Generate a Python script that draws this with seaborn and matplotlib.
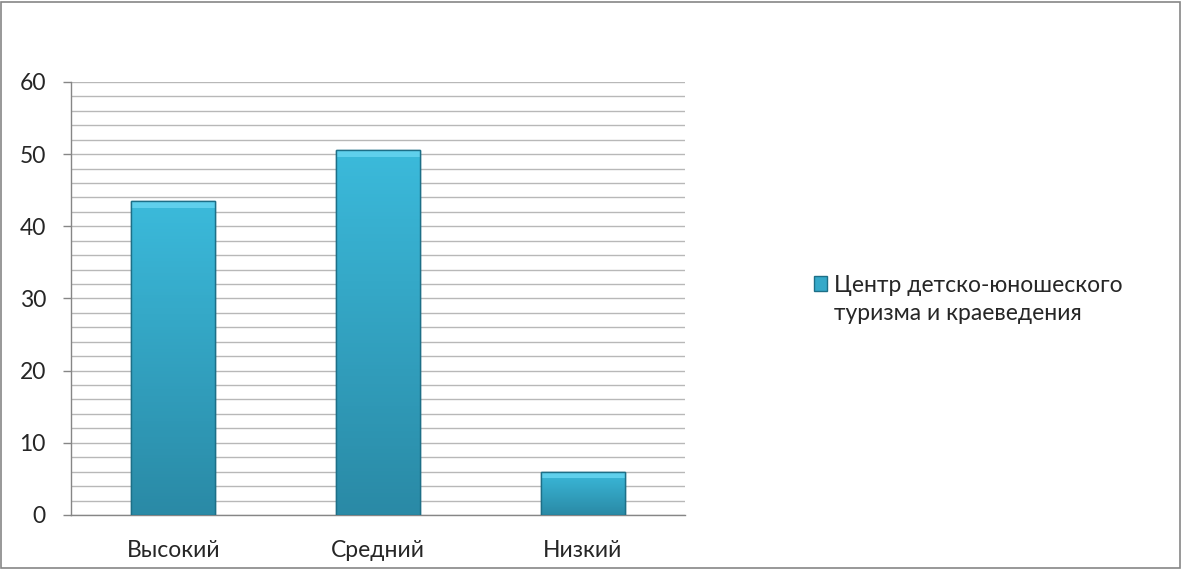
import numpy as np
import pandas as pd
import matplotlib
matplotlib.use('Agg')
import matplotlib.pyplot as plt
import seaborn as sns
from matplotlib.patches import Rectangle
from matplotlib.colors import LinearSegmentedColormap

# данные
categories = ['Высокий', 'Средний', 'Низкий']
values = [43.5, 50.5, 6]
series_lines = ['Центр детско-юношеского', 'туризма и краеведения']

df = pd.DataFrame({'cat': categories, 'val': values})

sns.set_style('white')
plt.rcParams['font.family'] = ['Lato', 'DejaVu Sans']

fig = plt.figure(figsize=(11.82, 5.69), dpi=100)
ax = fig.add_axes([0.060, 0.095, 0.5195, 0.761])

sns.barplot(data=df, x='cat', y='val', color='#35a9c9', width=0.41,
            edgecolor='#1d6f87', linewidth=1.0, saturation=1, ax=ax, zorder=3)

ax.set_ylim(0, 60)
ax.set_xlim(-0.5, 2.5)

# градиент на столбиках
grad = LinearSegmentedColormap.from_list('g', ['#2a8aa6', '#3bbadb'])
for bar in ax.patches:
    x0, y0 = bar.get_x(), bar.get_y()
    w, h = bar.get_width(), bar.get_height()
    im = ax.imshow(np.linspace(0, 1, 100).reshape(-1, 1), cmap=grad, aspect='auto',
                   origin='lower', extent=[x0, x0 + w, y0, y0 + h], zorder=3.5)
    im.set_clip_path(bar)
    # светлая фаска сверху
    ax.add_patch(Rectangle((x0, y0 + h - 0.9), w, 0.9, facecolor='#5fd0ec',
                           edgecolor='none', zorder=3.6))
    ax.add_patch(Rectangle((x0, y0), w, h, fill=False, edgecolor='#1d6f87',
                           linewidth=1.0, zorder=3.7))
ax.set_xlim(-0.5, 2.5)
ax.set_ylim(0, 60)

ax.set_yticks(np.arange(0, 61, 10))
ax.set_yticks(np.arange(0, 61, 2), minor=True)
ax.yaxis.grid(True, which='both', color='#b8b8b8', linewidth=1.0, zorder=0)
ax.set_axisbelow(True)

# деления по оси X между категориями
ax.set_xticks([0, 1, 2])
ax.set_xticklabels(categories)
ax.set_xticks([-0.5, 0.5, 1.5, 2.5], minor=True)
ax.tick_params(axis='x', which='major', length=0, labelsize=16.5, pad=18)
ax.tick_params(axis='x', which='minor', length=6, color='#868686', width=1)
ax.tick_params(axis='y', which='major', length=6, color='#868686', width=1,
               labelsize=16.5, direction='out', left=True, pad=12)
ax.tick_params(axis='y', which='minor', length=0)
ax.set_xlabel('')
ax.set_ylabel('')

for s in ['top', 'right']:
    ax.spines[s].set_visible(False)
for s in ['left', 'bottom']:
    ax.spines[s].set_color('#868686')
    ax.spines[s].set_linewidth(1)

# легенда: маркер у первой строки, вторая строка под текстом
handle = Rectangle((0, 0), 1, 1, facecolor='#35a9c9', edgecolor='#1d6f87')
leg = fig.legend([handle], [series_lines[0]], loc='center left',
                 bbox_to_anchor=(0.671, 0.499), frameon=False, fontsize=16.5,
                 handlelength=0.6, handleheight=0.6, handletextpad=0.3)
fig.canvas.draw()
bb = leg.get_texts()[0].get_window_extent().transformed(fig.transFigure.inverted())
fig.text(bb.x0, bb.y0 - 28 / 569, series_lines[1], fontsize=16.5,
         ha='left', va='bottom')

# рамка всей диаграммы
fig.patches.append(Rectangle((0.001, 0.002), 0.997, 0.995, transform=fig.transFigure,
                             fill=False, edgecolor='#868686', linewidth=1.2))

fig.savefig('out.png', dpi=100)
